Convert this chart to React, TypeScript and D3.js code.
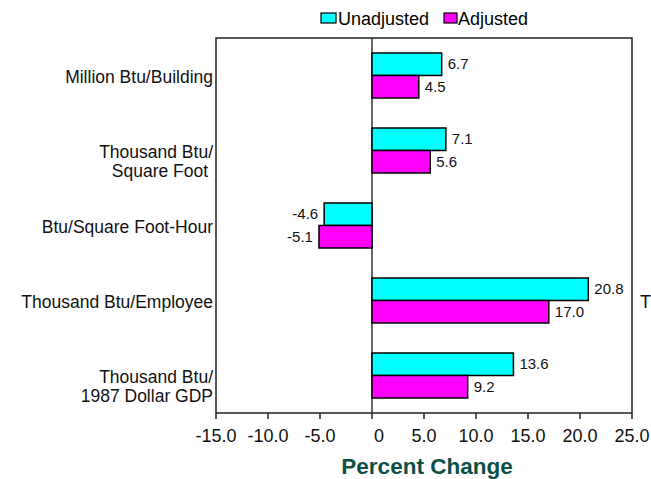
import React from "react";
import * as d3 from "d3";

const categories: string[][] = [
  ["Million Btu/Building"],
  ["Thousand Btu/", "Square Foot\u00a0"],
  ["Btu/Square Foot-Hour"],
  ["Thousand Btu/Employee"],
  ["Thousand Btu/", "1987 Dollar GDP"],
];
const seriesNames = ["Unadjusted", "Adjusted"];
const seriesColors = ["#00ffff", "#ff00ff"];
const unadjusted = [6.7, 7.1, -4.6, 20.8, 13.6];
const adjusted = [4.5, 5.6, -5.1, 17.0, 9.2];
const xTicks = [-15, -10, -5, 0, 5, 10, 15, 20, 25];
const xTitle = "Percent Change";
const clippedRightLabel = "T";

const W = 651;
const H = 479;
const plot = { left: 216, right: 632, top: 38, bottom: 413 };
const FONT = "'Liberation Sans', Arial, sans-serif";

export default function App() {
  const x = d3.scaleLinear().domain([-15, 25]).range([plot.left, plot.right]);
  const idx = categories.map((_, i) => i);
  const y = d3.scaleBand<number>().domain(idx).range([plot.top, plot.bottom]).padding(0);
  const inner = d3
    .scaleBand<number>()
    .domain([0, 1])
    .range([0, y.bandwidth()])
    .paddingInner(0)
    .paddingOuter(0.667);
  const series = [unadjusted, adjusted];
  const fmt = (v: number) => v.toFixed(1);
  const tickFmt = (v: number) => (v === 0 ? "0" : v.toFixed(1));

  return (
    <svg
      width={W}
      height={H}
      style={{ position: "absolute", left: 0, top: 0, background: "#fff" }}
      fontFamily={FONT}
    >
      {/* legend */}
      <g>
        <rect x={321} y={13} width={15} height={10} fill={seriesColors[0]} stroke="#000" strokeWidth={1.2} />
        <text x={338} y={25} fontSize={18} fill="#000">{seriesNames[0]}</text>
        <rect x={444} y={13} width={13} height={10} fill={seriesColors[1]} stroke="#000" strokeWidth={1.2} />
        <text x={458} y={25} fontSize={18} fill="#000">{seriesNames[1]}</text>
      </g>

      {/* frame */}
      <rect
        x={plot.left}
        y={plot.top}
        width={plot.right - plot.left}
        height={plot.bottom - plot.top}
        fill="none"
        stroke="#222"
        strokeWidth={1.5}
      />
      {/* zero line */}
      <line x1={x(0)} x2={x(0)} y1={plot.top} y2={plot.bottom} stroke="#333" strokeWidth={1.5} />

      {/* bars */}
      {series.map((vals, s) =>
        vals.map((v, i) => {
          const y0 = (y(i) as number) + (inner(s) as number);
          const bh = inner.bandwidth();
          const x0 = Math.min(x(0), x(v));
          const w = Math.abs(x(v) - x(0));
          const pos = v >= 0;
          return (
            <g key={`${s}-${i}`}>
              <rect x={x0} y={y0} width={w} height={bh} fill={seriesColors[s]} stroke="#000" strokeWidth={1.5} />
              <text
                x={pos ? x(v) + 6 : x(v) - 6}
                y={y0 + bh / 2 + 5}
                textAnchor={pos ? "start" : "end"}
                fontSize={15}
                fill="#111"
              >
                {fmt(v)}
              </text>
            </g>
          );
        })
      )}

      {/* category labels */}
      {categories.map((lines, i) => {
        const cy = (y(i) as number) + y.bandwidth() / 2;
        return (
          <text key={i} x={plot.left - 3} y={cy + 7.5} textAnchor="end" fontSize={17.5} fill="#111">
            {lines.map((l, j) => (
              <tspan key={j} x={plot.left - 3} dy={j === 0 ? 0 : 19}>
                {l}
              </tspan>
            ))}
          </text>
        );
      })}

      {/* x axis ticks */}
      {xTicks.map((t) => (
        <g key={t}>
          <line x1={x(t)} x2={x(t)} y1={plot.bottom} y2={plot.bottom + 6} stroke="#222" strokeWidth={1.5} />
          <text x={x(t) + (t === 0 ? 7 : 0)} y={442} textAnchor="middle" fontSize={18} fill="#111">
            {tickFmt(t)}
          </text>
        </g>
      ))}

      {/* axis title */}
      <text
        x={(plot.left + plot.right) / 2 + 3}
        y={474}
        textAnchor="middle"
        fontSize={22.5}
        fontWeight="bold"
        fill="#0b5048"
      >
        {xTitle}
      </text>

      {/* clipped label at right edge */}
      <text x={640} y={308} fontSize={18} fill="#111">{clippedRightLabel}</text>
    </svg>
  );
}
